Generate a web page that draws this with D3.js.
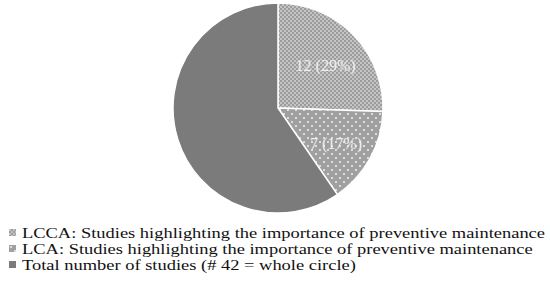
<!DOCTYPE html>
<html>
<head>
<meta charset="utf-8">
<script src="https://cdn.jsdelivr.net/npm/d3@7"></script>
<style>
  body { margin: 0; background: #fff; }
</style>
</head>
<body>
<div id="chart"></div>
<script>
// Measurement
var w = 550, h = 282;
var cx = 278, cy = 108, radius = 105;

// Data (slice sizes as drawn in the figure, labels as printed)
var categories = ["LCCA: Studies highlighting the importance of preventive maintenance",
                  "LCA: Studies highlighting the importance of preventive maintenance",
                  "Total number of studies (# 42 = whole circle)"];
var values = [12, 7, 28];
var sliceLabels = ["12 (29%)", "7 (17%)", ""];

var svg = d3.select("#chart")
    .append("svg")
    .attr("width", w)
    .attr("height", h);

// Patterns
var defs = svg.append("defs");

var pCheck = defs.append("pattern")
    .attr("id", "pat-check")
    .attr("patternUnits", "userSpaceOnUse")
    .attr("width", 4).attr("height", 4);
pCheck.append("rect").attr("width", 4).attr("height", 4).attr("fill", "#9c9c9c");
pCheck.append("rect").attr("x", 0).attr("y", 0).attr("width", 2).attr("height", 2).attr("fill", "#c4c4c4");
pCheck.append("rect").attr("x", 2).attr("y", 2).attr("width", 2).attr("height", 2).attr("fill", "#c4c4c4");

var pDots = defs.append("pattern")
    .attr("id", "pat-dots")
    .attr("patternUnits", "userSpaceOnUse")
    .attr("width", 8).attr("height", 8);
pDots.append("rect").attr("width", 8).attr("height", 8).attr("fill", "#a0a0a0");
pDots.append("rect").attr("x", 1).attr("y", 1).attr("width", 2).attr("height", 2).attr("fill", "#dcdcdc");
pDots.append("rect").attr("x", 5).attr("y", 5).attr("width", 2).attr("height", 2).attr("fill", "#dcdcdc");

var fills = ["url(#pat-check)", "url(#pat-dots)", "#7b7b7b"];

var pie = d3.pie().sort(null).value(function(d) { return d; });
var arc = d3.arc().innerRadius(0).outerRadius(radius);
var labelArc = d3.arc().innerRadius(radius * 0.63).outerRadius(radius * 0.63);

var g = svg.append("g")
    .attr("transform", "translate(" + cx + "," + cy + ")");

var arcs = pie(values);

g.selectAll("path")
    .data(arcs)
    .enter()
    .append("path")
    .attr("d", arc)
    .attr("fill", function(d, i) { return fills[i]; })
    .attr("stroke", "#fff")
    .attr("stroke-width", 1.5);

g.selectAll(".slabel")
    .data(arcs)
    .enter()
    .append("text")
    .attr("class", "slabel")
    .attr("transform", function(d) { return "translate(" + labelArc.centroid(d) + ")"; })
    .attr("text-anchor", "middle")
    .attr("dy", "0.55em")
    .attr("font-family", "Liberation Serif")
    .attr("font-size", 16)
    .attr("fill", "#f0f0f0")
    .text(function(d, i) { return sliceLabels[i]; });

// Legend
var legend = svg.append("g")
    .attr("transform", "translate(9,229)");

var rows = legend.selectAll("g")
    .data(categories)
    .enter()
    .append("g")
    .attr("transform", function(d, i) { return "translate(0," + (i * 16) + ")"; });

rows.append("rect")
    .attr("width", 7)
    .attr("height", 7)
    .attr("fill", function(d, i) { return fills[i]; });

var labels = rows.append("text")
    .attr("x", 13)
    .attr("y", 8.5)
    .attr("font-family", "Liberation Serif")
    .attr("font-size", 15.5)
    .attr("fill", "#111")
    .text(function(d) { return d; });

// stretch the lines to the wider face used in the figure
var k = 523 / labels.node().getComputedTextLength();
labels.each(function() {
    var t = d3.select(this);
    t.attr("textLength", this.getComputedTextLength() * k)
     .attr("lengthAdjust", "spacingAndGlyphs");
});
</script>
</body>
</html>
